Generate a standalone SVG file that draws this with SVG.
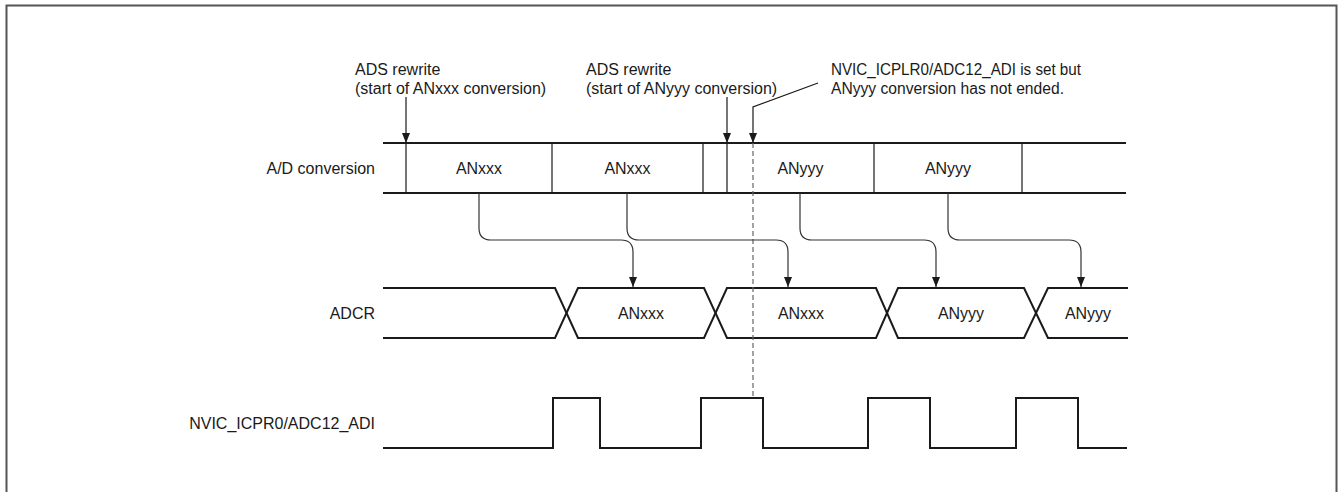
<svg xmlns="http://www.w3.org/2000/svg" width="1340" height="492" viewBox="0 0 1340 492">
<defs>
<style>
text{font-family:"Liberation Sans",Arial,sans-serif;font-size:16px;fill:#1a1a1a}
.lbl{text-anchor:end}
.mid{text-anchor:middle}
.row{stroke:#1a1a1a;stroke-width:2;fill:none}
.div{stroke:#1a1a1a;stroke-width:1.2;fill:none}
.con{stroke:#333;stroke-width:1.2;fill:none}
.dash{stroke:#666;stroke-width:1.2;stroke-dasharray:5 3;fill:none}
</style>
<marker id="ah" viewBox="0 0 10 8" refX="10" refY="4" markerWidth="10" markerHeight="8" markerUnits="userSpaceOnUse" orient="auto">
<path d="M0,0 L10,4 L0,8 Z" fill="#1a1a1a"/>
</marker>
</defs>
<rect x="6.5" y="5.5" width="1330" height="520" fill="none" stroke="#555" stroke-width="2"/>
<g id="label-ad"><text class="lbl" x="375" y="174">A/D conversion</text></g>
<g id="label-adcr"><text class="lbl" x="375" y="319">ADCR</text></g>
<g id="label-nvic"><text class="lbl" x="375" y="429">NVIC_ICPR0/ADC12_ADI</text></g>
<g id="ad-row">
<path class="row" d="M383,143 H1126 M383,193 H1126"/>
<path class="div" d="M406,143 V193 M552,143 V193 M703,143 V193 M727,143 V193 M874,143 V193 M1022,143 V193"/>
<text class="mid" x="479" y="174">ANxxx</text>
<text class="mid" x="627.5" y="174">ANxxx</text>
<text class="mid" x="800.5" y="174">ANyyy</text>
<text class="mid" x="948" y="174">ANyyy</text>
</g>
<g id="adcr-row">
<path class="row" d="M383,288 H555 L566.5,313 L555,338 H383"/>
<path class="row" d="M566.5,313 L578,288 H704 L715.5,313 L704,338 H578 Z"/>
<path class="row" d="M715.5,313 L727,288 H876 L887,313 L876,338 H727 Z"/>
<path class="row" d="M887,313 L898,288 H1024 L1036,313 L1024,338 H898 Z"/>
<path class="row" d="M1036,313 L1048,288 H1128 M1036,313 L1048,338 H1128"/>
<text class="mid" x="641" y="319">ANxxx</text>
<text class="mid" x="801" y="319">ANxxx</text>
<text class="mid" x="961" y="319">ANyyy</text>
<text class="mid" x="1088" y="319">ANyyy</text>
</g>
<g id="nvic-row">
<path class="row" d="M383,448 H553 V398 H600 V448 H701 V398 H763 V448 H868 V398 H930 V448 H1016 V398 H1078 V448 H1127"/>
</g>
<g id="note-ads1">
<text x="355" y="75">ADS rewrite</text>
<text x="355" y="94">(start of ANxxx conversion)</text>
</g>
<g id="note-ads2">
<text x="586" y="75">ADS rewrite</text>
<text x="586" y="94">(start of ANyyy conversion)</text>
</g>
<g id="note-nvic">
<text x="831" y="75" textLength="250" lengthAdjust="spacingAndGlyphs">NVIC_ICPLR0/ADC12_ADI is set but</text>
<text x="831" y="94" textLength="233" lengthAdjust="spacingAndGlyphs">ANyyy conversion has not ended.</text>
</g>
<g id="connectors">
<path class="div" d="M406,97 V143" marker-end="url(#ah)"/>
<path class="div" d="M727,97 V143" marker-end="url(#ah)"/>
<path class="div" d="M818,83 L753,107 V143" marker-end="url(#ah)"/>
<path class="dash" d="M753,143 V398"/>
<path class="con" d="M479,193 V228 Q479,240 491,240 H621 Q633,240 633,252 V287" marker-end="url(#ah)"/>
<path class="con" d="M627,193 V228 Q627,240 639,240 H776 Q788,240 788,252 V287" marker-end="url(#ah)"/>
<path class="con" d="M800,193 V228 Q800,240 812,240 H924 Q936,240 936,252 V287" marker-end="url(#ah)"/>
<path class="con" d="M948,193 V228 Q948,240 960,240 H1069 Q1081,240 1081,252 V287" marker-end="url(#ah)"/>
</g>
</svg>
